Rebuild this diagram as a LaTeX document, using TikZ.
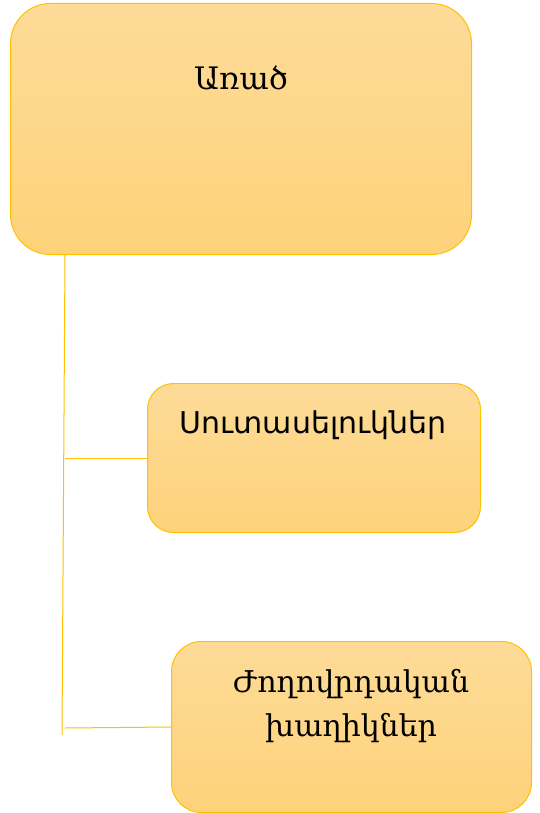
\documentclass[tikz,border=0pt]{standalone}
\usepackage{fontspec}
\newfontfamily\armserif{DejaVu Serif}
\newfontfamily\armsans{DejaVu Sans}
\definecolor{edge}{HTML}{FFC000}
\definecolor{ftop}{HTML}{FDDB98}
\definecolor{fbot}{HTML}{FED27A}
\begin{document}
\begin{tikzpicture}[x=1pt,y=-1pt,
  box/.style={draw=edge,line width=1pt,top color=ftop,bottom color=fbot,anchor=north west,inner sep=0pt},
  conn/.style={draw=edge,line width=1pt},
  lbl/.style={inner sep=0pt,align=center,text=black}]
\useasboundingbox (0,0) rectangle (539,813);
\node[box,rounded corners=40pt,minimum width=461pt,minimum height=251pt] (b1) at (10,3) {};
\node[box,rounded corners=26pt,minimum width=333pt,minimum height=149pt] (b2) at (147,383) {};
\node[box,rounded corners=30pt,minimum width=360pt,minimum height=171pt] (b3) at (171,641) {};
\node[lbl,font=\armserif\fontsize{31}{36}\selectfont] (t1) at (241,78) {Առած};
\node[lbl,font=\armsans\fontsize{30}{36}\selectfont] (t2) at (313,425) {Սուտասելուկներ};
\node[lbl,font=\armserif\fontsize{30}{44}\selectfont] (t3) at (351,706) {Ժողովրդական\\խաղիկներ};
\coordinate (top) at (65,254);
\coordinate (bot) at (62,735);
\coordinate (j1) at (65,458);
\coordinate (j2) at (65,728);
\draw[conn] (top) -- (bot);
\draw[conn] (j1) -- (b2.west);
\draw[conn] (j2) -- (b3.west);
\end{tikzpicture}
\end{document}
